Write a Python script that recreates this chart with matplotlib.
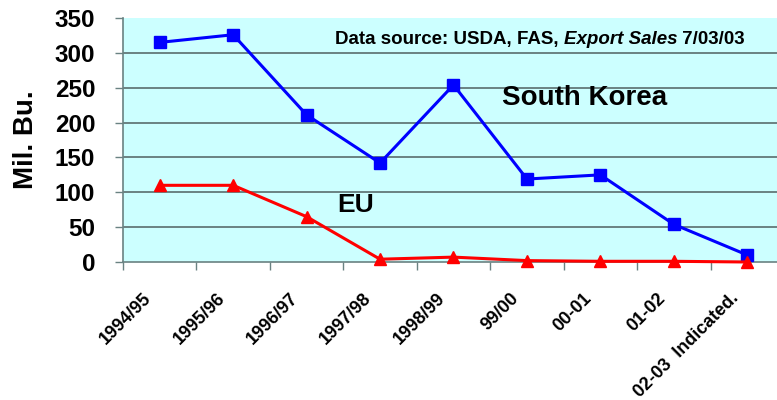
#!/usr/bin/env python3
"""Corn exports to South Korea and the EU, 1994/95 - 2002/03 (mil. bu.)."""

import matplotlib
matplotlib.use("Agg")
import matplotlib.pyplot as plt
import matplotlib.transforms as mtransforms
import numpy as np

plt.rcParams["font.family"] = ["Liberation Sans", "DejaVu Sans"]

years = ["1994/95", "1995/96", "1996/97", "1997/98", "1998/99",
         "99/00", "00-01", "01-02", "02-03  Indicated."]
south_korea = [315, 326, 211, 142, 254, 119, 125, 54, 10]
eu = [110, 110, 65, 4, 7, 2, 1, 1, 0]

BG = "#CCFFFF"
GRID = "#6A8282"
W, H = 777, 400


def px(x, y):
    # pixel position (from top-left) -> figure fraction
    return x / W, 1 - y / H


def main() -> None:
    fig = plt.figure(figsize=(W / 100, H / 100), dpi=100)
    ax = fig.add_axes([123 / W, 1 - 262 / H, 661 / W, 244 / H])
    ax.set_facecolor(BG)

    x = np.arange(len(years))
    ax.plot(x, south_korea, color="#0000FF", linewidth=2.2, marker="s",
            markersize=8, zorder=3, clip_on=False)
    ax.plot(x, eu, color="#FF0000", linewidth=2.2, marker="^",
            markersize=8.5, zorder=3, clip_on=False)

    ax.set_xlim(-0.5, len(years) - 0.5)
    ax.set_ylim(0, 350)
    ax.set_yticks(range(0, 351, 50))
    ax.tick_params(axis="y", labelsize=17.5, length=6, width=1, color=GRID, pad=14)
    for lab in ax.get_yticklabels():
        lab.set_fontweight("bold")

    ax.set_xticks(x)
    ax.set_xticklabels(years, rotation=45, ha="right", fontsize=13,
                       fontweight="bold")
    ax.tick_params(axis="x", which="major", length=0, pad=20)
    shift = mtransforms.ScaledTranslation(-5 / 100, 0, fig.dpi_scale_trans)
    for lab in ax.get_xticklabels():
        lab.set_transform(lab.get_transform() + shift)
    ax.set_xticks(np.arange(-0.5, len(years) - 0.4, 1.0), minor=True)
    ax.tick_params(axis="x", which="minor", length=6, width=1, color=GRID)

    for y in range(50, 301, 50):
        ax.axhline(y, color=GRID, linewidth=1.4, zorder=1)

    for side in ("top", "right"):
        ax.spines[side].set_visible(False)
    for side in ("left", "bottom"):
        ax.spines[side].set_color(GRID)
        ax.spines[side].set_linewidth(1.2)

    ax.set_ylabel("Mil. Bu.", fontsize=20, fontweight="bold", labelpad=11)

    fig.text(*px(502, 98), "South Korea", fontsize=20, fontweight="bold",
             va="center", ha="left")
    fig.text(*px(337, 205), "EU", fontsize=19, fontweight="bold",
             va="center", ha="left")

    # source note: bold text with the report title in italics
    t1 = fig.text(*px(335, 44), "Data source: USDA, FAS, ",
                  fontsize=13.5, fontweight="bold", va="baseline")
    t2 = ax.annotate("Export Sales", xy=(1, 0), xycoords=t1, va="bottom",
                     fontsize=13.5, fontweight="bold", fontstyle="italic")
    ax.annotate(" 7/03/03", xy=(1, 0), xycoords=t2, va="bottom",
                fontsize=13.5, fontweight="bold")

    fig.savefig("out.png", dpi=100)
    plt.close(fig)


if __name__ == "__main__":
    main()
